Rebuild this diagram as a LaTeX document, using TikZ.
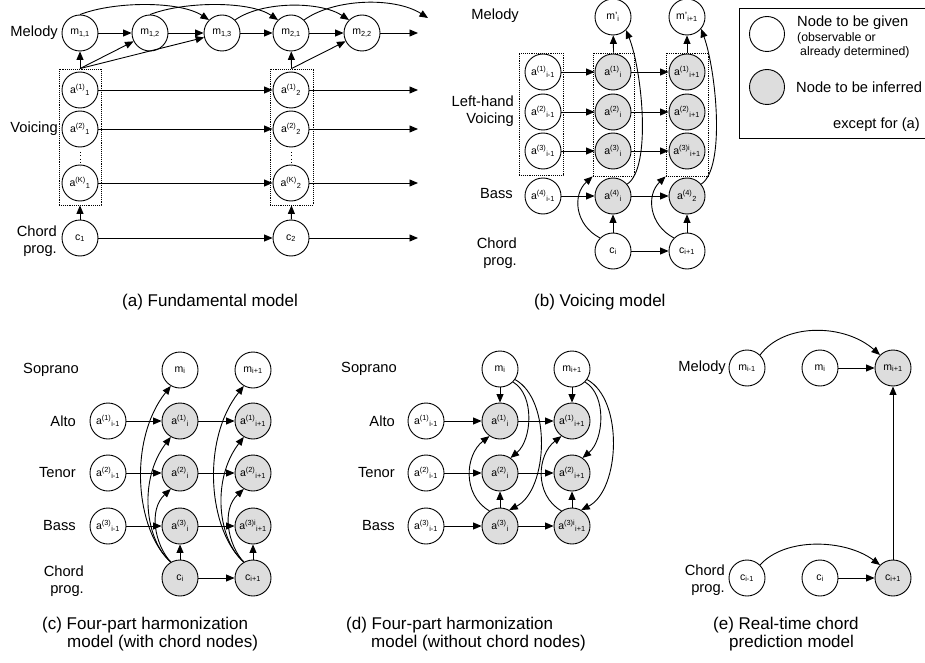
\documentclass[tikz,border=0pt]{standalone}
\usepackage{fontspec}
\setmainfont{Liberation Sans}
\usetikzlibrary{arrows.meta,fit}
\definecolor{ngray}{RGB}{221,221,221}
\newcommand\nsup[1]{\textsuperscript{#1}}
\newcommand\nsub[1]{\textsubscript{#1}}
\begin{document}
\begin{tikzpicture}[x=1pt,y=-1pt,
 nd/.style={circle,draw,line width=0.9pt,minimum size=36pt,inner sep=0pt,font=\fontsize{10.5}{12}\selectfont,fill=white},
 gn/.style={nd,fill=ngray},
 lbl/.style={font=\fontsize{14.7}{17}\selectfont,inner sep=0pt},
 sml/.style={font=\fontsize{12.3}{13}\selectfont,inner sep=0pt,anchor=west},
 captxt/.style={font=\fontsize{17}{18}\selectfont,inner sep=0pt,anchor=west},
 ar/.style={-{Triangle[length=8.5pt,width=7pt]},line width=0.9pt},
 bx/.style={draw,densely dotted,line width=0.9pt,inner sep=0pt}
]
\useasboundingbox[fill=white] (0,0) rectangle (925,663);

% ================= (a) =================
\node[lbl,anchor=east] (la1) at (58,33) {Melody};
\node[lbl,anchor=east] (la2) at (58,129) {Voicing};
\node[lbl,anchor=east,align=right] (la3) at (57,241) {Chord\\prog.};
\node[nd] (m11) at (80,33) {m\nsub{1,1}};
\node[nd] (m12) at (150,33) {m\nsub{1,2}};
\node[nd] (m13) at (222,33) {m\nsub{1,3}};
\node[nd] (m21) at (291,33) {m\nsub{2,1}};
\node[nd] (m22) at (362,33) {m\nsub{2,2}};
\node[nd] (a11) at (80,90) {a\nsup{(1)}\nsub{1}};
\node[nd] (a21) at (80,129) {a\nsup{(2)}\nsub{1}};
\node[nd] (aK1) at (80,183) {a\nsup{(K)}\nsub{1}};
\node[nd] (a12) at (291,90) {a\nsup{(1)}\nsub{2}};
\node[nd] (a22) at (291,129) {a\nsup{(2)}\nsub{2}};
\node[nd] (aK2) at (291,183) {a\nsup{(K)}\nsub{2}};
\node[nd] (c1) at (80,238) {c\nsub{1}};
\node[nd] (c2) at (291,238) {c\nsub{2}};
\node[bx,fit={(59,69) (101,205)}] (bxa1) {};
\node[bx,fit={(270,69) (313,205)}] (bxa2) {};
\draw[line width=1pt,dash pattern=on 1pt off 2.5pt] (80,152) -- (80,166);
\draw[line width=1pt,dash pattern=on 1pt off 2.5pt] (291,152) -- (291,166);
\coordinate (ea0) at (418,33);
\coordinate (ea1) at (418,90);
\coordinate (ea2) at (418,129);
\coordinate (eaK) at (418,183);
\coordinate (eac) at (418,238);
\coordinate (eat) at (428,18);
\draw[ar] (m11) -- (m12);
\draw[ar] (m12) -- (m13);
\draw[ar] (m13) -- (m21);
\draw[ar] (m21) -- (m22);
\draw[ar] (m22) -- (ea0);
\draw[ar] (bxa1.north) -- (m11);
\draw[ar] (bxa1.north) -- (m12);
\draw[ar] (bxa1.north) -- (m13);
\draw[ar] (bxa2.north) -- (m21);
\draw[ar] (bxa2.north) -- (m22);
\draw[ar] (a11) -- (a12);
\draw[ar] (a21) -- (a22);
\draw[ar] (aK1) -- (aK2);
\draw[ar] (a12) -- (ea1);
\draw[ar] (a22) -- (ea2);
\draw[ar] (aK2) -- (eaK);
\draw[ar] (c1) -- (c2);
\draw[ar] (c2) -- (eac);
\draw[ar] (c1) -- (bxa1.south);
\draw[ar] (c2) -- (bxa2.south);
\draw[ar] (m11.north) .. controls (115,1) and (180,1) .. (m13.north west);
\draw[ar] (m12.north) .. controls (185,1) and (250,1) .. (m21.north west);
\draw[ar] (m13.north east) .. controls (262,1) and (320,1) .. (m22.north west);
\draw[ar] (m21.north east) .. controls (335,-2) and (395,-3) .. (eat);
\node[captxt] (capa) at (122,302) {(a) Fundamental model};

% ================= (b) =================
\node[lbl,anchor=east] (lb1) at (519,16) {Melody};
\node[lbl,anchor=east,align=right] (lb2) at (514,111) {Left-hand\\Voicing};
\node[lbl,anchor=east] (lb3) at (513,194) {Bass};
\node[lbl,anchor=east,align=right] (lb4) at (517,253) {Chord\\prog.};
\node[nd] (bmp1) at (613,17) {m'\nsub{i}};
\node[nd] (bmp2) at (687,17) {m'\nsub{i+1}};
\node[nd] (bl1) at (543,72) {a\nsup{(1)}\nsub{i-1}};
\node[nd] (bl2) at (543,112) {a\nsup{(2)}\nsub{i-1}};
\node[nd] (bl3) at (543,151) {a\nsup{(3)}\nsub{i-1}};
\node[nd] (bl4) at (543,196) {a\nsup{(4)}\nsub{i-1}};
\node[gn] (bm1) at (613,72) {a\nsup{(1)}\nsub{i}};
\node[gn] (bm2) at (613,112) {a\nsup{(2)}\nsub{i}};
\node[gn] (bm3) at (613,151) {a\nsup{(3)}\nsub{i}};
\node[gn] (bm4) at (613,196) {a\nsup{(4)}\nsub{i}};
\node[gn] (br1) at (687,72) {a\nsup{(1)}\nsub{i+1}};
\node[gn] (br2) at (687,112) {a\nsup{(2)}\nsub{i+1}};
\node[gn] (br3) at (687,151) {a\nsup{(3)i}\nsub{i+1}};
\node[gn] (br4) at (687,196) {a\nsup{(4)}\nsub{2}};
\node[nd] (bc1) at (613,251) {c\nsub{i}};
\node[nd] (bc2) at (687,251) {c\nsub{i+1}};
\node[bx,fit={(519,53) (563,175)}] (bxbl) {};
\node[bx,fit={(593,53) (634,176)}] (bxbm) {};
\node[bx,fit={(666,53) (708,176)}] (bxbr) {};
\draw[ar] (bl1) -- (bm1);
\draw[ar] (bl2) -- (bm2);
\draw[ar] (bl3) -- (bm3);
\draw[ar] (bl4) -- (bm4);
\draw[ar] (bm1) -- (br1);
\draw[ar] (bm2) -- (br2);
\draw[ar] (bm3) -- (br3);
\draw[ar] (bm4) -- (br4);
\draw[ar] (bc1) -- (bc2);
\draw[ar] (bc1) -- (bm4);
\draw[ar] (bc2) -- (br4);
\draw[ar] (bxbm.north) -- (bmp1);
\draw[ar] (bxbr.north) -- (bmp2);
\draw[ar] (bm4.40) .. controls (652,168) and (642,70) .. (bmp1.-45);
\draw[ar] (br4.40) .. controls (726,168) and (716,70) .. (bmp2.-40);
\draw[ar] (bc1.135) .. controls (575,225) and (572,195) .. (bxbm.south west);
\draw[ar] (bc2.135) .. controls (649,225) and (646,195) .. (bxbr.south west);
\node[captxt] (capb) at (534,302) {(b) Voicing model};

% ================= legend =================
\node[draw,line width=0.9pt,inner sep=0pt,fit={(739,8) (926,138)}] (leg) {};
\node[nd,minimum size=35pt] (lg1) at (767,34) {};
\node[gn,minimum size=35pt] (lg2) at (767,87) {};
\node[lbl,anchor=west] (lt1) at (797,23) {Node to be given};
\node[sml] (lt2) at (797,38) {(observable or};
\node[sml] (lt3) at (800,52) {already determined)};
\node[lbl,anchor=west] (lt4) at (796,87) {Node to be inferred};
\node[lbl,anchor=east] (lt5) at (920,125) {except for (a)};

% ================= (c) =================
\node[lbl,anchor=east] (lc1) at (79,370) {Soprano};
\node[lbl,anchor=east] (lc2) at (76,421) {Alto};
\node[lbl,anchor=east] (lc3) at (76,473) {Tenor};
\node[lbl,anchor=east] (lc4) at (76,526) {Bass};
\node[lbl,anchor=east,align=right] (lc5) at (84,581) {Chord\\prog.};
\node[nd] (cmi) at (180,370) {m\nsub{i}};
\node[nd] (cmj) at (253,370) {m\nsub{i+1}};
\node[nd] (cl1) at (108,421) {a\nsup{(1)}\nsub{i-1}};
\node[nd] (cl2) at (108,473) {a\nsup{(2)}\nsub{i-1}};
\node[nd] (cl3) at (108,526) {a\nsup{(3)}\nsub{i-1}};
\node[gn] (cm1) at (180,421) {a\nsup{(1)}\nsub{i}};
\node[gn] (cm2) at (180,473) {a\nsup{(2)}\nsub{i}};
\node[gn] (cm3) at (180,526) {a\nsup{(3)}\nsub{i}};
\node[gn] (cr1) at (253,421) {a\nsup{(1)}\nsub{i+1}};
\node[gn] (cr2) at (253,473) {a\nsup{(2)}\nsub{i+1}};
\node[gn] (cr3) at (253,526) {a\nsup{(3)i}\nsub{i+1}};
\node[gn] (cc1) at (180,578) {c\nsub{i}};
\node[gn] (cc2) at (253,578) {c\nsub{i+1}};
\draw[ar] (cl1) -- (cm1);
\draw[ar] (cl2) -- (cm2);
\draw[ar] (cl3) -- (cm3);
\draw[ar] (cm1) -- (cr1);
\draw[ar] (cm2) -- (cr2);
\draw[ar] (cm3) -- (cr3);
\draw[ar] (cc1) -- (cc2);
\draw[ar] (cc1) -- (cm3);
\draw[ar] (cc2) -- (cr3);
\draw[ar] (cc1.120) .. controls (135,530) and (128,440) .. (cmi.-120);
\draw[ar] (cc1.120) .. controls (145,540) and (138,480) .. (cm1.-120);
\draw[ar] (cc1.120) .. controls (155,545) and (148,510) .. (cm2.-120);
\draw[ar] (cc2.120) .. controls (208,530) and (201,440) .. (cmj.-120);
\draw[ar] (cc2.120) .. controls (218,540) and (211,480) .. (cr1.-120);
\draw[ar] (cc2.120) .. controls (228,545) and (221,510) .. (cr2.-120);
\node[captxt] (capc1) at (42,625) {(c) Four-part harmonization};
\node[captxt] (capc2) at (67,643) {model (with chord nodes)};

% ================= (d) =================
\node[lbl,anchor=east] (ld1) at (397,369) {Soprano};
\node[lbl,anchor=east] (ld2) at (395,421) {Alto};
\node[lbl,anchor=east] (ld3) at (395,473) {Tenor};
\node[lbl,anchor=east] (ld4) at (395,526) {Bass};
\node[nd] (dmi) at (500,369) {m\nsub{i}};
\node[nd] (dmj) at (572,369) {m\nsub{i+1}};
\node[nd] (dl1) at (426,421) {a\nsup{(1)}\nsub{i-1}};
\node[nd] (dl2) at (426,473) {a\nsup{(2)}\nsub{i-1}};
\node[nd] (dl3) at (426,526) {a\nsup{(3)}\nsub{i-1}};
\node[gn] (dm1) at (500,421) {a\nsup{(1)}\nsub{i}};
\node[gn] (dm2) at (500,473) {a\nsup{(2)}\nsub{i}};
\node[gn] (dm3) at (500,526) {a\nsup{(3)}\nsub{i}};
\node[gn] (dr1) at (572,421) {a\nsup{(1)}\nsub{i+1}};
\node[gn] (dr2) at (572,473) {a\nsup{(2)}\nsub{i+1}};
\node[gn] (dr3) at (572,526) {a\nsup{(3)i}\nsub{i+1}};
\draw[ar] (dl1) -- (dm1);
\draw[ar] (dl2) -- (dm2);
\draw[ar] (dl3) -- (dm3);
\draw[ar] (dm1) -- (dr1);
\draw[ar] (dm2) -- (dr2);
\draw[ar] (dm3) -- (dr3);
\draw[ar] (dmi) -- (dm1);
\draw[ar] (dmj) -- (dr1);
\draw[ar] (dm3) -- (dm2);
\draw[ar] (dr3) -- (dr2);
\draw[ar] (dmi.-45) .. controls (535,395) and (532,440) .. (dm2.55);
\draw[ar] (dmi.-35) .. controls (552,400) and (548,490) .. (dm3.60);
\draw[ar] (dm3.125) .. controls (462,495) and (465,455) .. (dm1.-125);
\draw[ar] (dmj.-45) .. controls (607,395) and (604,440) .. (dr2.55);
\draw[ar] (dmj.-35) .. controls (624,400) and (620,490) .. (dr3.60);
\draw[ar] (dr3.125) .. controls (534,495) and (537,455) .. (dr1.-125);
\node[captxt] (capd1) at (346,625) {(d) Four-part harmonization};
\node[captxt] (capd2) at (371,643) {model (without chord nodes)};

% ================= (e) =================
\node[lbl,anchor=east] (le1) at (726,368) {Melody};
\node[lbl,anchor=east,align=right] (le2) at (725,580) {Chord\\prog.};
\node[nd] (em0) at (747,368) {m\nsub{i-1}};
\node[nd] (em1) at (820,368) {m\nsub{i}};
\node[gn] (em2) at (893,368) {m\nsub{i+1}};
\node[nd] (ec0) at (747,578) {c\nsub{i-1}};
\node[nd] (ec1) at (820,578) {c\nsub{i}};
\node[gn] (ec2) at (893,578) {c\nsub{i+1}};
\draw[ar] (em1) -- (em2);
\draw[ar] (ec1) -- (ec2);
\draw[ar] (ec2) -- (em2);
\draw[ar] (em0.45) .. controls (785,322) and (845,324) .. (em2.135);
\draw[ar] (ec0.45) .. controls (785,537) and (845,539) .. (ec2.135);
\node[captxt] (cape1) at (713,625) {(e) Real-time chord};
\node[captxt] (cape2) at (729,643) {prediction model};
\end{tikzpicture}
\end{document}
